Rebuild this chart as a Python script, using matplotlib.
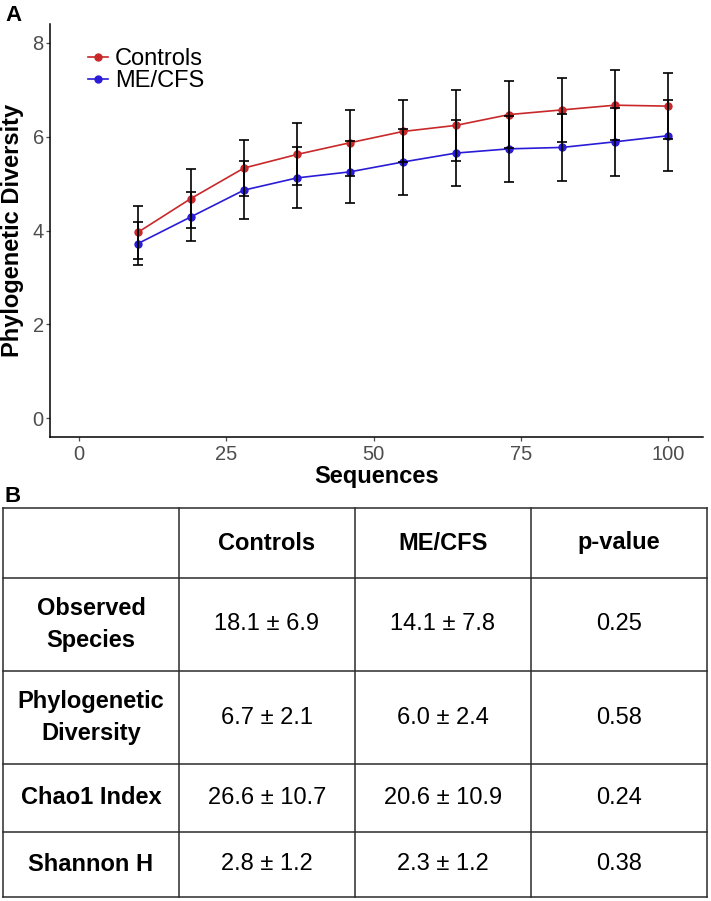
import matplotlib
matplotlib.use("Agg")
import matplotlib.pyplot as plt
from matplotlib.lines import Line2D

plt.rcParams['font.family'] = ['Liberation Sans', 'DejaVu Sans']

# rarefaction curve (panel A)
seqs = [10, 19, 28, 37, 46, 55, 64, 73, 82, 91, 100]
ctrl_mean = [3.96, 4.68, 5.33, 5.62, 5.87, 6.11, 6.24, 6.47, 6.57, 6.67, 6.65]
ctrl_err = [0.56, 0.62, 0.59, 0.66, 0.70, 0.66, 0.75, 0.71, 0.69, 0.74, 0.71]
mecfs_mean = [3.72, 4.29, 4.86, 5.12, 5.25, 5.46, 5.65, 5.74, 5.77, 5.89, 6.02]
mecfs_err = [0.46, 0.52, 0.62, 0.65, 0.66, 0.70, 0.70, 0.70, 0.71, 0.72, 0.75]

# summary table (panel B)
col_labels = ["", "Controls", "ME/CFS", "p-value"]
row_labels = ["Observed\nSpecies", "Phylogenetic\nDiversity", "Chao1 Index", "Shannon H"]
ctrl_vals = ["18.1 ± 6.9", "6.7 ± 2.1", "26.6 ± 10.7", "2.8 ± 1.2"]
mecfs_vals = ["14.1 ± 7.8", "6.0 ± 2.4", "20.6 ± 10.9", "2.3 ± 1.2"]
p_vals = ["0.25", "0.58", "0.24", "0.38"]

W, H = 711, 901
red = '#C8282A'
blue = '#2A1CD6'
grey = '#4D4D4D'

fig = plt.figure(figsize=(W / 100, H / 100), dpi=100)

# ---- panel A
ax = fig.add_axes([50 / W, 1 - 437 / H, 653 / W, 413 / H])
ax.plot(seqs, ctrl_mean, color=red, lw=1.2, marker='o', ms=5, zorder=2)
ax.plot(seqs, mecfs_mean, color=blue, lw=1.2, marker='o', ms=5, zorder=2)
ax.errorbar(seqs, ctrl_mean, yerr=ctrl_err, fmt='none', ecolor='black',
            elinewidth=1.2, capsize=3.8, capthick=1.2, zorder=3)
ax.errorbar(seqs, mecfs_mean, yerr=mecfs_err, fmt='none', ecolor='black',
            elinewidth=1.2, capsize=3.8, capthick=1.2, zorder=3)

ax.set_xlim(-4.9, 105.9)
ax.set_ylim(-0.4, 8.4)
ax.set_xticks([0, 25, 50, 75, 100])
ax.set_yticks([0, 2, 4, 6, 8])
for s in ['top', 'right']:
    ax.spines[s].set_visible(False)
for s in ['left', 'bottom']:
    ax.spines[s].set_linewidth(1.1)
ax.tick_params(axis='both', labelsize=14.5, labelcolor=grey, color=grey,
               length=3, width=0.9)
ax.tick_params(axis='y', pad=1.5)
ax.tick_params(axis='x', pad=2.5)
ax.set_xlabel('Sequences', fontsize=17, fontweight='bold')
ax.set_ylabel('Phylogenetic Diversity', fontsize=17, fontweight='bold')
ax.xaxis.set_label_coords(0.5, -0.068)
ax.yaxis.set_label_coords(-0.040, 0.5)

handles = [Line2D([], [], color=red, lw=1.2, marker='o', ms=5),
           Line2D([], [], color=blue, lw=1.2, marker='o', ms=5)]
fig.legend(handles, ['Controls', 'ME/CFS'], loc='upper left',
           bbox_to_anchor=(88 / W, 1 - 48 / H), frameon=False, fontsize=17,
           handlelength=0.85, handletextpad=0.3, labelspacing=0.02,
           borderpad=0, borderaxespad=0)

# ---- overlay for panel letters and table
ov = fig.add_axes([0, 0, 1, 1])
ov.set_xlim(0, W)
ov.set_ylim(H, 0)
ov.axis('off')

ov.text(5, 21, 'A', fontsize=16, fontweight='bold', va='baseline')
ov.text(5, 502, 'B', fontsize=16, fontweight='bold', va='baseline')

col_edges = [3, 179, 355, 531, 707]
row_edges = [508, 578, 671, 764, 832, 897]
line_kw = dict(color='#2B2B2B', lw=1.1)
for x in col_edges:
    ov.plot([x, x], [row_edges[0], row_edges[-1]], **line_kw)
for y in row_edges:
    ov.plot([col_edges[0], col_edges[-1]], [y, y], **line_kw)

def cell_center(r, c):
    return ((col_edges[c] + col_edges[c + 1]) / 2,
            (row_edges[r] + row_edges[r + 1]) / 2)

for c, lab in enumerate(col_labels):
    x, y = cell_center(0, c)
    ov.text(x, y, lab, ha='center', va='center', fontsize=17, fontweight='bold')

for r in range(len(row_labels)):
    cells = [row_labels[r], ctrl_vals[r], mecfs_vals[r], p_vals[r]]
    for c, txt in enumerate(cells):
        x, y = cell_center(r + 1, c)
        ov.text(x, y, txt, ha='center', va='center', fontsize=17,
                fontweight='bold' if c == 0 else 'normal', linespacing=1.45)

fig.savefig('out.png', dpi=100)
